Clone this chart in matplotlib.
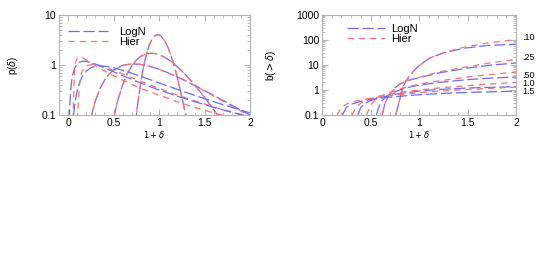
import matplotlib
matplotlib.use("Agg")
import matplotlib.pyplot as plt
from matplotlib.ticker import MultipleLocator, LogLocator, NullFormatter, FixedLocator, FixedFormatter

plt.rcParams['font.family'] = ['Liberation Sans', 'DejaVu Sans']
plt.rcParams['mathtext.fontset'] = 'dejavusans'

# ---- left panel: p(delta) vs 1+delta ----
p_x_010 = [0.74, 0.76, 0.78, 0.8, 0.825, 0.85, 0.875, 0.9, 0.925, 0.95, 0.975, 1.0, 1.025, 1.05,
           1.075, 1.1, 1.125, 1.15, 1.175, 1.2, 1.25, 1.275, 1.3, 1.32]
p_ln_010 = [0.066, 0.137, 0.26, 0.458, 0.83, 1.35, 1.99, 2.68, 3.31, 3.78, 4.02, 4.0, 3.73, 3.29,
            2.76, 2.19, 1.67, 1.21, 0.85, 0.572, 0.234, 0.143, 0.085, 0.055]
p_hi_010 = p_ln_010

p_x_025 = [0.5, 0.55, 0.6, 0.65, 0.7, 0.75, 0.8, 0.85, 0.9, 0.95, 1.0, 1.05, 1.1, 1.15, 1.2, 1.25,
           1.3, 1.35, 1.4, 1.45, 1.5, 1.55, 1.6, 1.65, 1.7]
p_ln_025 = [0.086, 0.207, 0.402, 0.664, 0.961, 1.25, 1.49, 1.65, 1.72, 1.70, 1.61, 1.465, 1.29, 1.11,
            0.93, 0.763, 0.615, 0.488, 0.381, 0.295, 0.225, 0.171, 0.128, 0.096, 0.071]
p_hi_025 = p_ln_025

p_x_050 = [0.25, 0.3, 0.35, 0.4, 0.45, 0.5, 0.6, 0.7, 0.8, 0.9, 1.0, 1.1, 1.2, 1.3, 1.4, 1.5, 1.6,
           1.7, 1.8, 1.9, 2.0]
p_ln_050 = [0.089, 0.194, 0.336, 0.495, 0.652, 0.792, 0.985, 1.055, 1.027, 0.938, 0.821, 0.698, 0.580,
            0.475, 0.385, 0.309, 0.247, 0.197, 0.157, 0.125, 0.099]
p_hi_050 = [0.085, 0.19, 0.332, 0.49, 0.65, 0.79, 0.985, 1.055, 1.027, 0.936, 0.818, 0.693, 0.574,
            0.468, 0.378, 0.302, 0.24, 0.19, 0.151, 0.12, 0.094]

p_x_100 = [0.06, 0.07, 0.08, 0.1, 0.12, 0.15, 0.2, 0.25, 0.3, 0.35, 0.4, 0.5, 0.6, 0.7, 0.8, 0.9,
           1.0, 1.2, 1.4, 1.6, 1.8, 2.0]
p_ln_100 = [0.099, 0.145, 0.195, 0.303, 0.413, 0.564, 0.759, 0.879, 0.940, 0.958, 0.948, 0.879, 0.783,
            0.685, 0.592, 0.511, 0.439, 0.326, 0.244, 0.185, 0.142, 0.110]
p_xh_100 = [0.1, 0.11, 0.12, 0.13, 0.15, 0.18, 0.2, 0.25, 0.3, 0.35, 0.4, 0.5, 0.6, 0.7, 0.8, 0.9,
            1.0, 1.2, 1.4, 1.6, 1.8, 2.0]
p_hi_100 = [0.08, 0.15, 0.3, 0.5, 0.72, 0.88, 0.95, 1.02, 1.02, 0.98, 0.92, 0.78, 0.66, 0.56, 0.47,
            0.40, 0.34, 0.25, 0.19, 0.145, 0.115, 0.092]

p_x_150 = [0.01, 0.015, 0.02, 0.03, 0.04, 0.05, 0.07, 0.1, 0.13, 0.17, 0.2, 0.25, 0.3, 0.4, 0.5,
           0.6, 0.8, 0.9, 1.0, 1.2, 1.4, 1.6, 1.8, 2.0]
p_ln_150 = [0.039, 0.097, 0.170, 0.331, 0.489, 0.630, 0.852, 1.058, 1.157, 1.194, 1.182, 1.123, 1.043,
            0.878, 0.732, 0.611, 0.434, 0.370, 0.317, 0.238, 0.183, 0.143, 0.113, 0.092]
p_xh_150 = [0.055, 0.06, 0.065, 0.07, 0.08, 0.1, 0.13, 0.15, 0.2, 0.25, 0.3, 0.4, 0.5, 0.6, 0.8,
            0.9, 1.0, 1.2, 1.4, 1.6, 1.8, 2.0]
p_hi_150 = [0.08, 0.2, 0.45, 0.75, 1.1, 1.38, 1.45, 1.42, 1.26, 1.1, 0.97, 0.76, 0.61, 0.5, 0.34,
            0.29, 0.25, 0.185, 0.14, 0.11, 0.088, 0.072]

# ---- right panel: b(>delta) vs 1+delta ----
b_x_010 = [0.76, 0.78, 0.8, 0.83, 0.87, 0.91, 0.98, 1.05, 1.11, 1.25, 1.45, 1.7, 2.0]
b_ln_010 = [0.1, 0.2, 0.4, 1.2, 2.5, 4.0, 8.0, 13, 19, 30, 46, 60, 68]
b_hi_010 = [0.1, 0.2, 0.4, 1.2, 2.5, 4.0, 8.0, 13, 19, 31, 50, 75, 105]

b_x_025 = [0.62, 0.65, 0.7, 0.75, 0.8, 0.9, 1.0, 1.2, 1.5, 1.75, 2.0]
b_ln_025 = [0.1, 0.3, 0.7, 1.2, 1.7, 2.5, 3.1, 4.8, 7.5, 10, 12]
b_hi_025 = [0.1, 0.3, 0.7, 1.2, 1.7, 2.5, 3.2, 5.2, 8.5, 12.5, 16.5]

b_x_050 = [0.56, 0.6, 0.65, 0.7, 0.8, 0.9, 1.0, 1.2, 1.5, 1.75, 2.0]
b_ln_050 = [0.1, 0.3, 0.5, 0.7, 1.0, 1.3, 1.55, 2.0, 2.6, 3.0, 3.3]
b_xh_050 = [0.46, 0.5, 0.55, 0.6, 0.7, 0.8, 0.9, 1.0, 1.2, 1.5, 1.75, 2.0]
b_hi_050 = [0.1, 0.25, 0.4, 0.55, 0.8, 1.1, 1.4, 1.7, 2.3, 3.3, 4.2, 5.2]

b_x_100 = [0.37, 0.4, 0.45, 0.5, 0.6, 0.7, 0.8, 1.0, 1.2, 1.5, 1.75, 2.0]
b_ln_100 = [0.1, 0.2, 0.3, 0.38, 0.5, 0.6, 0.72, 0.9, 1.05, 1.2, 1.28, 1.35]
b_xh_100 = [0.31, 0.35, 0.4, 0.5, 0.6, 0.8, 1.0, 1.2, 1.5, 1.75, 2.0]
b_hi_100 = [0.1, 0.2, 0.3, 0.45, 0.58, 0.8, 1.0, 1.2, 1.5, 1.75, 2.0]

b_x_150 = [0.21, 0.25, 0.3, 0.4, 0.5, 0.7, 1.0, 1.25, 1.5, 1.75, 2.0]
b_ln_150 = [0.1, 0.2, 0.27, 0.35, 0.42, 0.52, 0.65, 0.73, 0.8, 0.85, 0.9]
b_xh_150 = [0.155, 0.2, 0.25, 0.3, 0.4, 0.5, 0.7, 1.0, 1.25, 1.5, 1.75, 2.0]
b_hi_150 = [0.1, 0.2, 0.27, 0.32, 0.4, 0.47, 0.6, 0.78, 0.92, 1.05, 1.17, 1.3]

sigma_labels = ['.10', '.25', '.50', '1.0', '1.5']
sigma_label_y = [37, 57, 75, 84, 92]   # pixel rows of the labels

blue = '#6b6bff'
red = '#ff7070'
frame = '#b4b4b4'
ln_dash = (9, 3)
hi_dash = (5, 4)
lw = 0.9

fig = plt.figure(figsize=(5.45, 2.73), dpi=100)
ax1 = fig.add_axes([59 / 545, 1 - 115 / 273, 191 / 545, 100 / 273])
ax2 = fig.add_axes([322 / 545, 1 - 115 / 273, 194 / 545, 100 / 273])

left_sets = [(p_x_010, p_ln_010, p_x_010, p_hi_010),
             (p_x_025, p_ln_025, p_x_025, p_hi_025),
             (p_x_050, p_ln_050, p_x_050, p_hi_050),
             (p_x_100, p_ln_100, p_xh_100, p_hi_100),
             (p_x_150, p_ln_150, p_xh_150, p_hi_150)]
right_sets = [(b_x_010, b_ln_010, b_x_010, b_hi_010),
              (b_x_025, b_ln_025, b_x_025, b_hi_025),
              (b_x_050, b_ln_050, b_xh_050, b_hi_050),
              (b_x_100, b_ln_100, b_xh_100, b_hi_100),
              (b_x_150, b_ln_150, b_xh_150, b_hi_150)]

for ax, sets in [(ax1, left_sets), (ax2, right_sets)]:
    for i, (xl, yl, xh, yh) in enumerate(sets):
        ax.plot(xl, yl, color=blue, lw=lw, dashes=ln_dash, label='LogN' if i == 0 else None)
        ax.plot(xh, yh, color=red, lw=lw, dashes=hi_dash, label='Hier' if i == 0 else None)
    ax.set_yscale('log')
    ax.xaxis.set_minor_locator(MultipleLocator(0.1))
    ax.xaxis.set_major_locator(FixedLocator([0, 0.5, 1, 1.5, 2]))
    ax.xaxis.set_major_formatter(FixedFormatter(['0', '0.5', '1', '1.5', '2']))
    ax.yaxis.set_minor_locator(LogLocator(base=10, subs=range(2, 10)))
    ax.yaxis.set_minor_formatter(NullFormatter())
    for s in ax.spines.values():
        s.set_color(frame)
        s.set_linewidth(0.8)
    ax.tick_params(which='both', direction='in', top=True, right=True, color=frame,
                   labelsize=7.5, pad=2)
    ax.tick_params(which='major', length=4)
    ax.tick_params(which='minor', length=2)
    ax.set_xlabel(r'$1+\delta$', fontsize=6, va='center')
    ax.xaxis.set_label_coords(0.5, -0.19)

ax1.set_xlim(-0.1, 2.0)
ax1.set_ylim(0.1, 10)
ax1.yaxis.set_major_locator(FixedLocator([0.1, 1, 10]))
ax1.yaxis.set_major_formatter(FixedFormatter(['0.1', '1', '10']))
ax1.set_ylabel(r'p($\delta$)', fontsize=7)
ax1.yaxis.set_label_coords(-39 / 191, 0.5)
ax1.legend(loc='upper left', bbox_to_anchor=(9 / 191, 0.88), frameon=False, fontsize=8,
           handlelength=3.6, handletextpad=1.0, borderpad=0, borderaxespad=0, labelspacing=0.0)

ax2.set_xlim(0, 2.0)
ax2.set_ylim(0.1, 1000)
ax2.yaxis.set_major_locator(FixedLocator([0.1, 1, 10, 100, 1000]))
ax2.yaxis.set_major_formatter(FixedFormatter(['0.1', '1', '10', '100', '1000']))
ax2.set_ylabel(r'b($>\delta$)', fontsize=7)
ax2.yaxis.set_label_coords(-44 / 194, 0.5)
ax2.legend(loc='upper left', bbox_to_anchor=(25 / 194, 0.91), frameon=False, fontsize=8,
           handlelength=3.4, handletextpad=0.6, borderpad=0, borderaxespad=0, labelspacing=0.0)

for lab, py in zip(sigma_labels, sigma_label_y):
    fig.text(522 / 545, 1 - py / 273, lab, fontsize=6.5, va='center', ha='left')

fig.savefig('out.png', dpi=100)
